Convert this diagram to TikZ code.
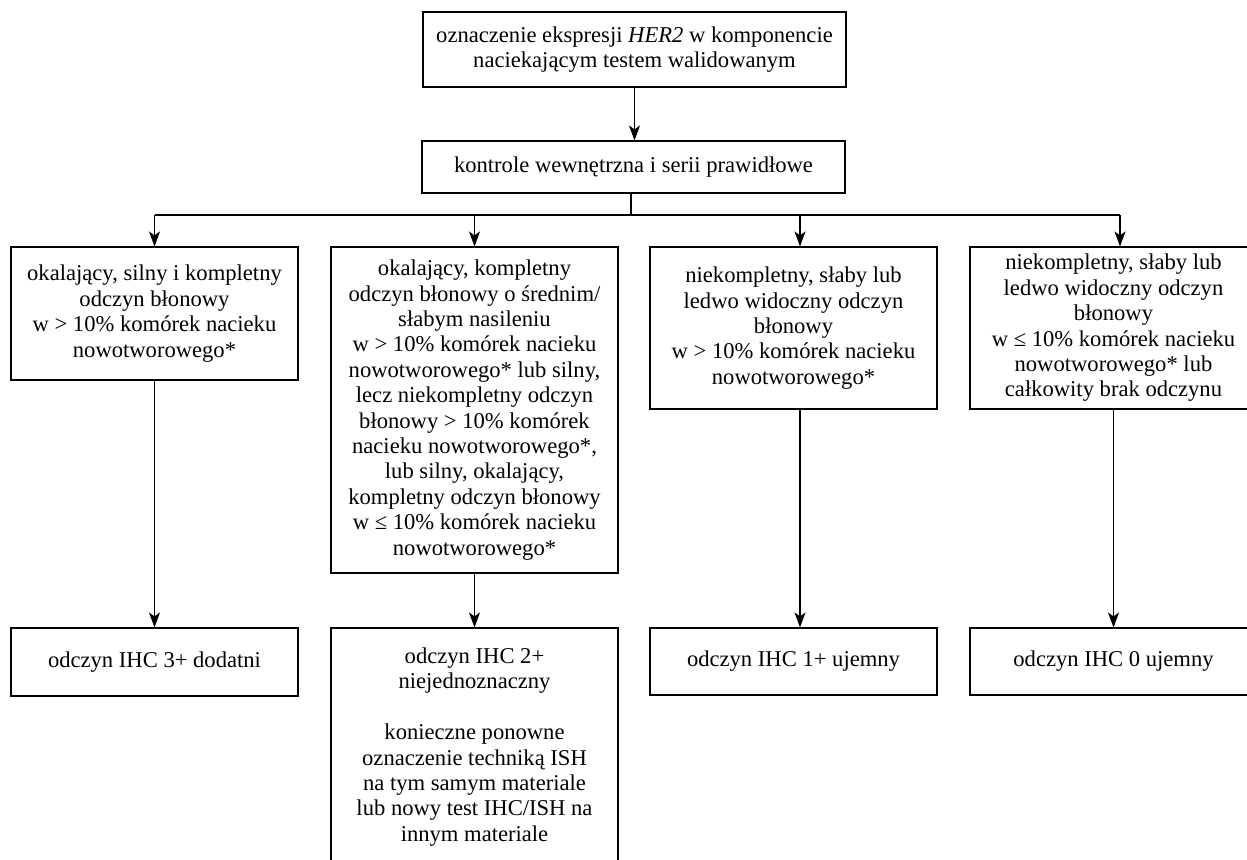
\documentclass[tikz,border=0pt]{standalone}
\usepackage{fontspec}
\setmainfont{Liberation Serif}
\usetikzlibrary{arrows.meta,calc}
\newcommand\myboxfont{\fontsize{22.6}{25.4}\selectfont}
\tikzset{
  box/.style={draw, line width=1.1pt, align=center, inner sep=0pt, font=\myboxfont, rectangle},
  wide/.style={box, minimum width=423pt},
  narrow/.style={box, minimum width=287pt},
  link/.style={line width=1.1pt},
  arr/.style={link, -{Stealth[length=15pt,width=11pt,inset=4pt]}}
}
\begin{document}
\begin{tikzpicture}[x=1pt,y=-1pt]
\useasboundingbox (0,0) rectangle (1247,859);
\fill[white] (0,0) rectangle (1247,859);

\node[wide, minimum height=75pt] (top) at (634.5,49.5)
  {oznaczenie ekspresji \textit{HER2} w komponencie\\naciekającym testem walidowanym};
\node[wide, minimum height=52pt] (ctrl) at (633.5,167)
  {kontrole wewnętrzna i serii prawidłowe};

\node[narrow, minimum height=133pt] (m1) at (154.5,313.5)
  {okalający, silny i kompletny\\odczyn błonowy\\w > 10\% komórek nacieku\\nowotworowego*};
\node[narrow, minimum height=326pt] (m2) at (474.5,410)
  {okalający, kompletny\\odczyn błonowy o średnim/\\słabym nasileniu\\w > 10\% komórek nacieku\\nowotworowego* lub silny,\\lecz niekompletny odczyn\\błonowy > 10\% komórek\\nacieku nowotworowego*,\\lub silny, okalający,\\kompletny odczyn błonowy\\w ≤ 10\% komórek nacieku\\nowotworowego*};
\node[narrow, minimum height=162pt] (m3) at (793.5,328)
  {niekompletny, słaby lub\\ledwo widoczny odczyn\\błonowy\\w > 10\% komórek nacieku\\nowotworowego*};
\node[narrow, minimum height=162pt] (m4) at (1113.5,328)
  {niekompletny, słaby lub\\ledwo widoczny odczyn\\błonowy\\w ≤ 10\% komórek nacieku\\nowotworowego* lub\\całkowity brak odczynu};

\node[narrow, minimum height=68pt] (b1) at (154.5,662)
  {odczyn IHC 3+ dodatni};
\node[narrow, minimum height=238pt] (b2) at (474.5,747)
  {odczyn IHC 2+\\niejednoznaczny\\[25.4pt]konieczne ponowne\\oznaczenie techniką ISH\\na tym samym materiale\\lub nowy test IHC/ISH na\\innym materiale};
\node[narrow, minimum height=67pt] (b3) at (793.5,661.5)
  {odczyn IHC 1+ ujemny};
\node[narrow, minimum height=67pt] (b4) at (1113.5,661.5)
  {odczyn IHC 0 ujemny};

% connectors
\coordinate (br) at (631,215);
\coordinate (j3) at (800,215);
\coordinate (j4) at (1120,215);

\draw[arr] (top.south) -- (top.south |- ctrl.north);
\draw[link] (br |- ctrl.south) -- (br);
\draw[link] (m1.north |- br) -- (j4);
\draw[arr] (m1.north |- br) -- (m1.north);
\draw[arr] (m2.north |- br) -- (m2.north);
\draw[arr] (j3) -- (j3 |- m3.north);
\draw[arr] (j4) -- (j4 |- m4.north);

\draw[arr] (m1.south) -- (b1.north);
\draw[arr] (m2.south) -- (b2.north);
\draw[arr] (j3 |- m3.south) -- (j3 |- b3.north);
\draw[arr] (m4.south) -- (b4.north);
\end{tikzpicture}
\end{document}
